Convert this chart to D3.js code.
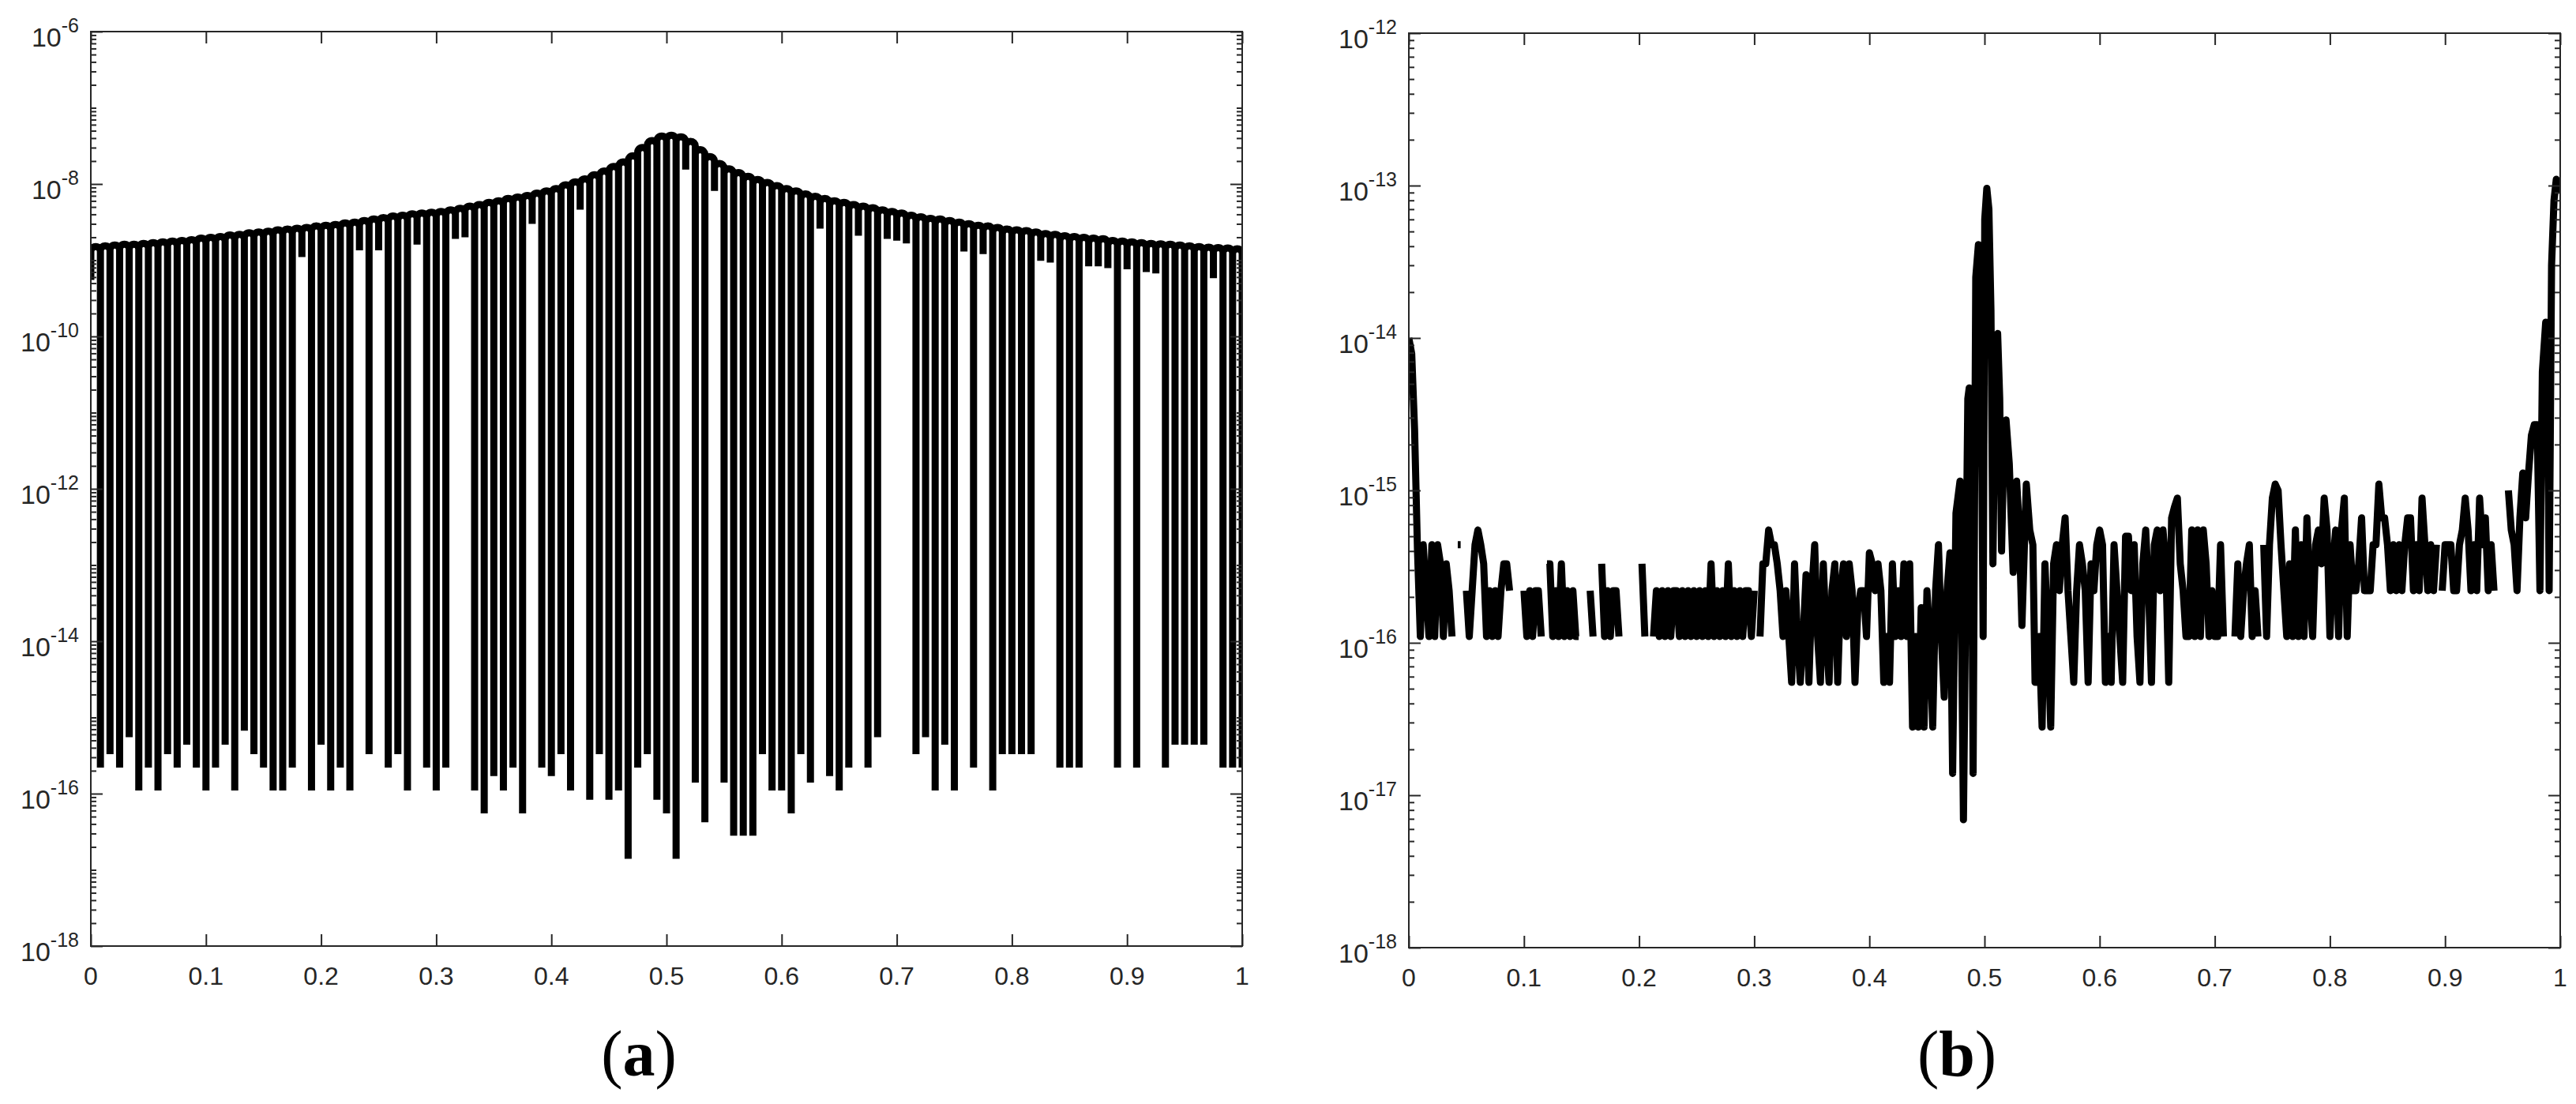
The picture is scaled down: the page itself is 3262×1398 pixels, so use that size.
<!DOCTYPE html>
<html><head><meta charset="utf-8">
<script src="https://cdn.jsdelivr.net/npm/d3@7"></script>
<style>
html,body{margin:0;padding:0;background:#fff;}
svg{display:block;background:#fff;}
.lab{font-family:"Liberation Sans",Arial,Helvetica,sans-serif;fill:#262626;}
</style></head><body>
<svg id="chart" width="3262" height="1398"></svg>
<script>
// ---------- tick labels ----------
const xTicks = [0,0.1,0.2,0.3,0.4,0.5,0.6,0.7,0.8,0.9,1];
const xTickLabels = ["0","0.1","0.2","0.3","0.4","0.5","0.6","0.7","0.8","0.9","1"];
const leftYTickExps = [-6,-8,-10,-12,-14,-16,-18];
const rightYTickExps = [-12,-13,-14,-15,-16,-17,-18];
const panelLabels = ["a","b"];

// ---------- panel (a): lobe peaks and null depths ----------
const leftLobeCount = 120;
const leftLobePeaks = [
 1.51e-9,1.55e-9,1.58e-9,1.62e-9,1.62e-9,1.66e-9,1.70e-9,1.74e-9,1.78e-9,1.82e-9,
 1.86e-9,1.95e-9,2.00e-9,2.04e-9,2.14e-9,2.19e-9,2.29e-9,2.34e-9,2.40e-9,2.51e-9,
 2.57e-9,2.63e-9,2.69e-9,2.82e-9,2.88e-9,2.95e-9,3.09e-9,3.16e-9,3.31e-9,3.47e-9,
 3.63e-9,3.80e-9,3.89e-9,4.07e-9,4.17e-9,4.27e-9,4.37e-9,4.57e-9,4.79e-9,5.13e-9,
 5.37e-9,5.75e-9,6.03e-9,6.46e-9,6.76e-9,7.08e-9,7.59e-9,8.13e-9,8.71e-9,9.77e-9,
 1.07e-8,1.17e-8,1.32e-8,1.48e-8,1.70e-8,1.95e-8,2.34e-8,3.02e-8,3.72e-8,4.27e-8,
 4.37e-8,4.17e-8,3.63e-8,2.82e-8,2.29e-8,1.86e-8,1.58e-8,1.41e-8,1.26e-8,1.15e-8,
 1.05e-8,9.55e-9,8.71e-9,8.13e-9,7.41e-9,6.92e-9,6.46e-9,6.03e-9,5.75e-9,5.37e-9,
 5.13e-9,4.90e-9,4.57e-9,4.37e-9,4.17e-9,3.89e-9,3.72e-9,3.55e-9,3.47e-9,3.31e-9,
 3.16e-9,3.02e-9,2.88e-9,2.82e-9,2.69e-9,2.57e-9,2.51e-9,2.45e-9,2.34e-9,2.24e-9,
 2.19e-9,2.09e-9,2.04e-9,2.00e-9,1.95e-9,1.91e-9,1.82e-9,1.78e-9,1.74e-9,1.70e-9,
 1.66e-9,1.64e-9,1.62e-9,1.58e-9,1.55e-9,1.51e-9,1.48e-9,1.46e-9,1.45e-9,1.41e-9
];
const leftNullDepths = [
 5.5e-10,2.2e-16,3.3e-16,2.2e-16,5.5e-16,1.1e-16,2.2e-16,1.1e-16,3.3e-16,2.2e-16,
 4.4e-16,2.2e-16,1.1e-16,2.2e-16,4.4e-16,1.1e-16,6.7e-16,3.3e-16,2.2e-16,1.1e-16,
 1.1e-16,2.2e-16,1.1e-9,1.1e-16,4.4e-16,1.1e-16,2.2e-16,1.1e-16,1.35e-9,3.3e-16,
 1.35e-9,2.2e-16,3.3e-16,1.1e-16,1.6e-9,2.2e-16,1.1e-16,2.2e-16,1.9e-9,2.0e-9,
 1.1e-16,5.5e-17,1.7e-16,1.1e-16,2.2e-16,5.5e-17,3.0e-9,2.2e-16,1.7e-16,3.3e-16,
 1.1e-16,4.6e-9,8.3e-17,3.3e-16,8.3e-17,1.1e-16,1.4e-17,2.2e-16,3.3e-16,8.3e-17,
 5.5e-17,1.4e-17,1.55e-8,1.4e-16,4.2e-17,8.1e-9,1.4e-16,2.8e-17,2.8e-17,2.8e-17,
 3.3e-16,1.1e-16,1.1e-16,5.5e-17,3.3e-16,1.4e-16,2.6e-9,1.7e-16,1.1e-16,2.2e-16,
 2.1e-9,2.2e-16,5.5e-16,1.9e-9,1.8e-9,1.66e-9,3.3e-16,5.5e-16,1.1e-16,4.4e-16,
 1.1e-16,1.3e-9,2.2e-16,1.2e-9,1.1e-16,3.3e-16,3.3e-16,3.3e-16,3.3e-16,9.8e-10,
 9.3e-10,2.2e-16,2.2e-16,2.2e-16,8.3e-10,8.3e-10,7.9e-10,2.2e-16,7.6e-10,2.2e-16,
 7.0e-10,6.7e-10,2.2e-16,4.4e-16,4.4e-16,4.4e-16,4.4e-16,5.8e-10,2.2e-16,2.2e-16,
 2.2e-16
];

// ---------- panel (b): error curve (null = exact zero, not drawn) ----------
const rightGridStep = 0.0025;
const rightFloorAStart = 0;
const rightFloorA = [
 1.0e-14,7.9e-15,2.5e-15,4.1e-16,1.1e-16,4.4e-16,2.2e-16,1.1e-16,4.4e-16,1.1e-16,
 4.4e-16,3.3e-16,1.1e-16,3.3e-16,2.2e-16,1.1e-16,null,4.4e-16,4.4e-16,null,
 2.2e-16,1.1e-16,2.2e-16,4.4e-16,5.5e-16,4.4e-16,3.3e-16,1.1e-16,2.2e-16,1.1e-16,
 2.2e-16,1.1e-16,2.2e-16,3.3e-16,3.3e-16,2.2e-16,null,1.1e-16,null,null,
 2.2e-16,1.1e-16,2.2e-16,1.1e-16,2.2e-16,2.2e-16,1.1e-16,null,3.3e-16,3.3e-16,
 1.1e-16,2.2e-16,1.1e-16,3.3e-16,1.1e-16,2.2e-16,1.1e-16,2.2e-16,1.1e-16,1.1e-16,
 null,1.1e-16,null,2.2e-16,1.1e-16,null,null,3.3e-16,1.1e-16,2.2e-16,
 1.1e-16,2.2e-16,2.2e-16,1.1e-16,null,null,1.1e-16,null,null,null,
 null,3.3e-16,1.1e-16,null,null,1.1e-16,2.2e-16,1.1e-16,2.2e-16,1.1e-16,
 2.2e-16,1.1e-16,2.2e-16,2.2e-16,1.1e-16,2.2e-16,1.1e-16,2.2e-16,1.1e-16,2.2e-16,
 1.1e-16,2.2e-16,1.1e-16,2.2e-16,1.1e-16,3.3e-16,1.1e-16,2.2e-16,1.1e-16,2.2e-16,
 1.1e-16,3.3e-16,1.1e-16,2.2e-16,1.1e-16,2.2e-16,1.1e-16,2.2e-16,2.2e-16,1.1e-16,
 2.2e-16,null,1.1e-16,3.3e-16,3.3e-16,5.5e-16,4.4e-16,4.4e-16,3.3e-16,2.2e-16,
 1.1e-16,2.2e-16,1.1e-16,5.5e-17,3.3e-16,1.1e-16,5.5e-17,1.1e-16,2.8e-16,5.5e-17,
 2.2e-16,4.4e-16,1.1e-16,5.5e-17,3.3e-16,1.1e-16,5.5e-17,2.2e-16,3.3e-16,5.5e-17,
 2.2e-16,3.3e-16,1.1e-16,3.3e-16,2.2e-16,5.5e-17,1.7e-16,2.2e-16,2.2e-16,1.1e-16,
 3.9e-16,3.3e-16,2.2e-16,3.3e-16,2.2e-16,5.5e-17,1.1e-16,5.5e-17,3.3e-16,1.1e-16,
 2.2e-16,1.1e-16,3.3e-16,1.1e-16,3.3e-16,2.8e-17,1.1e-16,2.8e-17,1.7e-16,2.8e-17,
 2.2e-16,1.1e-16,2.8e-17,2.2e-16,4.4e-16,1.1e-16,4.4e-17,2.2e-16,3.9e-16
];
const rightCenterX = [0.4723,0.4752,0.4787,0.4817,0.4855,0.4867,0.4885,0.4901,0.4924,0.4947,
 0.4965,0.4988,0.5002,0.5020,0.5038,0.5056,0.5073,0.5094,0.5114,0.5132,0.5148,0.5170,
 0.5187,0.5215,0.5249,0.5279,0.5300,0.5325,0.5363,0.5393,0.5420,0.5439];
const rightCenterY = [1.39e-17,7.1e-16,1.15e-15,6.9e-18,4.0e-15,4.7e-15,2.0e-15,1.39e-17,2.5e-14,4.1e-14,
 2.5e-14,1.1e-16,6.0e-14,9.6e-14,7.0e-14,1.5e-14,3.3e-16,7.0e-15,1.07e-14,4.0e-15,4.0e-16,2.3e-15,
 2.9e-15,1.5e-15,2.9e-16,1.15e-15,6.0e-16,1.3e-16,1.1e-15,5.5e-16,4.4e-16,5.5e-17];
const rightFloorBStart = 0.545;
const rightFloorB = [
 5.5e-17,1.1e-16,2.8e-17,3.3e-16,1.1e-16,2.8e-17,3.3e-16,4.4e-16,2.2e-16,4.4e-16,
 6.6e-16,2.2e-16,1.1e-16,5.5e-17,2.2e-16,4.4e-16,3.3e-16,2.2e-16,5.5e-17,3.3e-16,
 2.2e-16,4.4e-16,5.5e-16,4.4e-16,5.5e-17,1.1e-16,5.5e-17,4.4e-16,2.2e-16,1.1e-16,
 5.5e-17,5.0e-16,5.0e-16,2.2e-16,4.4e-16,1.1e-16,5.5e-17,3.3e-16,5.5e-16,2.2e-16,
 5.5e-17,4.4e-16,5.5e-16,2.2e-16,5.5e-16,3.3e-16,5.5e-17,6.6e-16,7.8e-16,8.9e-16,
 3.3e-16,2.2e-16,1.1e-16,1.1e-16,5.5e-16,1.1e-16,5.5e-16,1.1e-16,5.5e-16,3.3e-16,
 1.1e-16,2.2e-16,1.1e-16,1.1e-16,4.4e-16,1.1e-16,null,1.1e-16,null,1.1e-16,
 3.3e-16,1.1e-16,2.2e-16,3.3e-16,4.4e-16,1.1e-16,2.2e-16,1.1e-16,null,4.4e-16,
 1.1e-16,4.4e-16,8.9e-16,1.1e-15,1.0e-15,4.4e-16,2.2e-16,1.1e-16,3.3e-16,1.1e-16,
 5.5e-16,1.1e-16,4.4e-16,1.1e-16,6.6e-16,2.2e-16,1.1e-16,4.4e-16,5.5e-16,3.3e-16,
 8.9e-16,5.5e-16,1.1e-16,3.3e-16,5.5e-16,1.1e-16,5.5e-16,8.9e-16,1.1e-16,4.4e-16,
 2.2e-16,2.2e-16,3.3e-16,6.6e-16,2.2e-16,2.2e-16,2.2e-16,4.4e-16,4.4e-16,1.1e-15,
 6.6e-16,6.6e-16,4.4e-16,2.2e-16,4.4e-16,2.2e-16,4.4e-16,2.2e-16,4.4e-16,6.6e-16,
 6.6e-16,2.2e-16,4.4e-16,2.2e-16,8.9e-16,4.4e-16,2.2e-16,4.4e-16,2.2e-16,4.4e-16,
 null,2.2e-16,4.4e-16,4.4e-16,4.4e-16,2.2e-16,2.2e-16,4.4e-16,5.5e-16,8.9e-16,
 5.5e-16,2.2e-16,4.4e-16,2.2e-16,8.9e-16,4.4e-16,6.6e-16,2.2e-16,4.4e-16,2.2e-16,
 null,null,4.4e-16,null,1.0e-15,5.5e-16,4.4e-16,2.2e-16,6.6e-16,1.3e-15,
 6.6e-16,1.3e-15,2.3e-15,2.7e-15,2.7e-15
];
const rightEndX = [0.9824,0.9845,0.9874,0.9890,0.9904,0.9925,0.9946,0.9966,0.9985,1.0];
const rightEndY = [2.2e-16,6.0e-15,1.27e-14,6.0e-15,2.2e-16,3.0e-14,8.0e-14,1.1e-13,1.05e-13,9.0e-14];

// ---------- drawing ----------
const svg = d3.select("#chart");
const AX = "#262626";

const leftBox = {x0:115, x1:1573, y0:40, y1:1198};
const rightBox = {x0:1784, x1:3242, y0:42, y1:1200};

const xL = d3.scaleLinear().domain([0,1]).range([leftBox.x0, leftBox.x1]);
const yL = d3.scaleLog().domain([1e-18,1e-6]).range([leftBox.y1, leftBox.y0]);
const xR = d3.scaleLinear().domain([0,1]).range([rightBox.x0, rightBox.x1]);
const yR = d3.scaleLog().domain([1e-18,1e-12]).range([rightBox.y1, rightBox.y0]);

function minorTicks(lo, hi, extraExps) {
  const out = [];
  for (let n = lo; n < hi; n++) for (let m = 2; m <= 9; m++) out.push(m * Math.pow(10, n));
  extraExps.forEach(e => out.push(Math.pow(10, e)));
  return out;
}

function drawAxes(id, box, x, y, majorExps, minors) {
  const g = svg.append("g").attr("id", id + "-axes");
  const major = majorExps.map(e => Math.pow(10, e));
  const clean = s => { s.select(".domain").remove(); s.selectAll(".tick line").attr("stroke", AX).attr("stroke-width", 2); };
  g.append("g").attr("transform", `translate(0,${box.y1})`)
    .call(d3.axisBottom(x).tickValues(xTicks).tickSize(-15).tickFormat("")).call(clean);
  g.append("g").attr("transform", `translate(0,${box.y0})`)
    .call(d3.axisTop(x).tickValues(xTicks).tickSize(-15).tickFormat("")).call(clean);
  g.append("g").attr("transform", `translate(${box.x0},0)`)
    .call(d3.axisLeft(y).tickValues(major).tickSize(-15).tickFormat("")).call(clean);
  g.append("g").attr("transform", `translate(${box.x0},0)`)
    .call(d3.axisLeft(y).tickValues(minors).tickSize(-7).tickFormat("")).call(clean);
  g.append("g").attr("transform", `translate(${box.x1},0)`)
    .call(d3.axisRight(y).tickValues(major).tickSize(-15).tickFormat("")).call(clean);
  g.append("g").attr("transform", `translate(${box.x1},0)`)
    .call(d3.axisRight(y).tickValues(minors).tickSize(-7).tickFormat("")).call(clean);
  g.append("rect").attr("x", box.x0).attr("y", box.y0)
    .attr("width", box.x1 - box.x0).attr("height", box.y1 - box.y0)
    .attr("fill", "none").attr("stroke", AX).attr("stroke-width", 2);

  // x tick labels
  g.selectAll("text.xl").data(xTicks).join("text").attr("class", "lab xl")
    .attr("x", d => x(d)).attr("y", box.y1 + 49).attr("text-anchor", "middle")
    .attr("font-size", 32).text((d, i) => xTickLabels[i]);
  // y tick labels 10^e
  g.selectAll("text.yl").data(majorExps).join("text").attr("class", "lab yl")
    .attr("x", box.x0 - 15).attr("y", d => y(Math.pow(10, d)) + 19).attr("text-anchor", "end")
    .each(function(d) {
      const t = d3.select(this);
      t.append("tspan").attr("font-size", 34).text("10");
      t.append("tspan").attr("font-size", 25).attr("dy", -18).text(String(d));
    });
}

// clip paths
const defs = svg.append("defs");
[["clipL", leftBox], ["clipR", rightBox]].forEach(([id, b]) => {
  defs.append("clipPath").attr("id", id).append("rect")
    .attr("x", b.x0).attr("y", b.y0).attr("width", b.x1 - b.x0).attr("height", b.y1 - b.y0);
});

// ----- panel (a) line: vertical flanks at nulls, round arch at each lobe peak -----
(function() {
  const p = d3.path();
  p.moveTo(xL(0), yL(leftNullDepths[0]));
  for (let k = 0; k < leftLobeCount; k++) {
    const xa = xL(k / leftLobeCount), xb = xL((k + 1) / leftLobeCount);
    const r = (xb - xa) / 2, cx = (xa + xb) / 2;
    const cy = yL(leftLobePeaks[k]) + r;
    p.lineTo(xa, cy);
    p.arc(cx, cy, r, Math.PI, 2 * Math.PI, false);
    p.lineTo(xb, yL(leftNullDepths[k + 1]));
  }
  svg.append("g").attr("clip-path", "url(#clipL)").append("path")
    .attr("d", p.toString()).attr("fill", "none").attr("stroke", "#000")
    .attr("stroke-width", 9).attr("stroke-linejoin", "miter").attr("stroke-miterlimit", 2);
})();

// ----- panel (b) line -----
(function() {
  const pts = [
    ...rightFloorA.map((v, j) => ({x: rightFloorAStart + j * rightGridStep, v})),
    ...rightCenterX.map((x, j) => ({x, v: rightCenterY[j]})),
    ...rightFloorB.map((v, j) => ({x: rightFloorBStart + j * rightGridStep, v})),
    ...rightEndX.map((x, j) => ({x, v: rightEndY[j]}))
  ];
  const line = d3.line().defined(d => d.v !== null && d.v > 0).x(d => xR(d.x)).y(d => yR(d.v));
  svg.append("g").attr("clip-path", "url(#clipR)").append("path")
    .attr("d", line(pts)).attr("fill", "none").attr("stroke", "#000")
    .attr("stroke-width", 9).attr("stroke-linejoin", "round").attr("stroke-linecap", "butt");
})();

drawAxes("left", leftBox, xL, yL, leftYTickExps, minorTicks(-18, -6, [-7,-9,-11,-13,-15,-17]));
drawAxes("right", rightBox, xR, yR, rightYTickExps, minorTicks(-18, -12, []));

// panel labels
const labelPos = [809, 2478];
panelLabels.forEach((s, i) => {
  const t = svg.append("text").attr("x", labelPos[i]).attr("y", 1362).attr("text-anchor", "middle")
    .attr("font-family", "'Liberation Serif','Times New Roman',serif").attr("font-size", 82).attr("fill", "#000");
  t.append("tspan").text("(");
  t.append("tspan").attr("font-weight", "bold").text(s);
  t.append("tspan").text(")");
});
</script></body></html>
